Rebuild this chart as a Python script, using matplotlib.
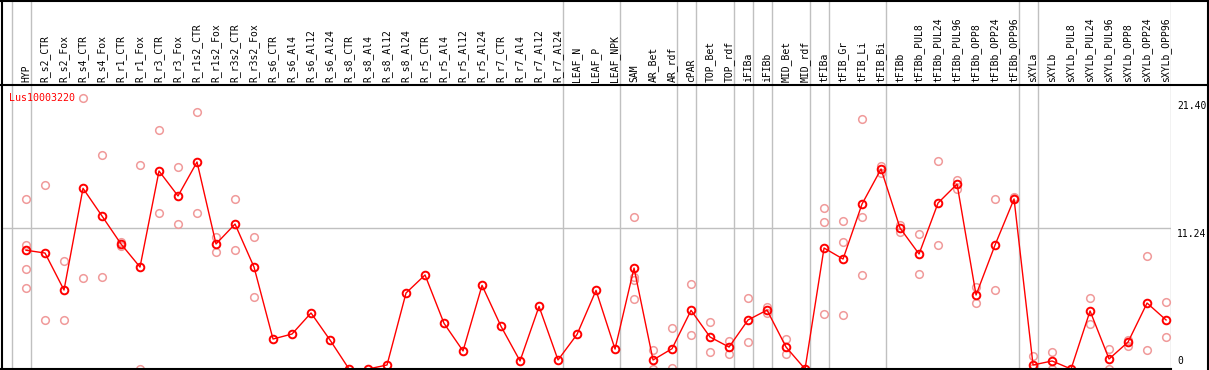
import matplotlib
matplotlib.use("Agg")
import matplotlib.pyplot as plt
from matplotlib.lines import Line2D
from matplotlib.transforms import blended_transform_factory

# sample names (columns)
samples = ["HYP", "R_s2_CTR", "R_s2_Fox", "R_s4_CTR", "R_s4_Fox", "R_r1_CTR", "R_r1_Fox",
           "R_r3_CTR", "R_r3_Fox", "R_r1s2_CTR", "R_r1s2_Fox", "R_r3s2_CTR", "R_r3s2_Fox",
           "R_s6_CTR", "R_s6_Al4", "R_s6_Al12", "R_s6_Al24", "R_s8_CTR", "R_s8_Al4",
           "R_s8_Al12", "R_s8_Al24", "R_r5_CTR", "R_r5_Al4", "R_r5_Al12", "R_r5_Al24",
           "R_r7_CTR", "R_r7_Al4", "R_r7_Al12", "R_r7_Al24", "LEAF_N", "LEAF_P", "LEAF_NPK",
           "SAM", "AR_Bet", "AR_rdf", "cPAR", "TOP_Bet", "TOP_rdf", "iFIBa", "iFIBb",
           "MID_Bet", "MID_rdf", "tFIBa", "tFIB_Gr", "tFIB_Li", "tFIB_Bi", "tFIBb",
           "tFIBb_PUL8", "tFIBb_PUL24", "tFIBb_PUL96", "tFIBb_OPP8", "tFIBb_OPP24",
           "tFIBb_OPP96", "sXYLa", "sXYLb", "sXYLb_PUL8", "sXYLb_PUL24", "sXYLb_PUL96",
           "sXYLb_OPP8", "sXYLb_OPP24", "sXYLb_OPP96"]

# mean expression per sample
means = [9.47, 9.25, 6.30, 14.41, 12.20, 9.97, 8.13, 15.79, 13.80, 16.51, 9.97, 11.56, 8.13,
         2.39, 2.79, 4.47, 2.31, 0.0, 0.0, 0.32, 6.06, 7.50, 3.64, 1.44, 6.67, 3.40, 0.64,
         4.99, 0.72, 2.76, 6.27, 1.59, 8.05, 0.72, 1.62, 4.68, 2.55, 1.75, 3.91, 4.70,
         1.75, 0.0, 9.65, 8.77, 13.16, 15.95, 11.24, 9.17, 13.24, 14.75, 5.90, 9.89,
         13.56, 0.32, 0.64, 0.0, 4.63, 0.80, 2.15, 5.26, 3.91]

# replicate values (column index, value)
rep_idx = [0, 0, 0, 0, 1, 1, 2, 2, 3, 3, 4, 4, 5, 5, 6, 6, 7, 7, 8, 8, 9, 9, 10, 10,
           11, 11, 12, 12, 32, 32, 32, 32, 33, 33, 34, 34, 35, 35, 36, 36, 37, 37, 38, 38,
           39, 39, 40, 40, 42, 42, 42, 43, 43, 43, 44, 44, 44, 45, 45, 46, 46, 47, 47,
           48, 48, 49, 49, 50, 50, 51, 51, 52, 52, 53, 53, 54, 54, 56, 56, 57, 57,
           58, 58, 59, 59, 60, 60]
rep_val = [13.56, 9.89, 7.95, 6.43, 14.65, 3.91, 8.64, 3.91, 21.59, 7.23, 17.07, 7.31,
           10.15, 9.80, 16.27, 0.0, 19.03, 12.44, 16.08, 11.56, 20.47, 12.44, 10.53, 9.30,
           13.56, 9.49, 10.53, 5.74, 12.12, 7.36, 7.10, 5.56, 1.52, 0.0, 3.27, 0.08,
           6.78, 2.68, 3.72, 1.33, 2.23, 1.17, 5.64, 2.13, 4.92, 4.44, 2.39, 1.17,
           12.81, 11.70, 4.39, 11.80, 10.10, 4.28, 19.94, 12.10, 7.47, 16.19, 15.61,
           11.48, 10.95, 10.77, 7.58, 16.59, 9.89, 15.07, 14.33, 6.57, 5.24, 13.56, 6.30,
           13.74, 13.60, 1.04, 0.1, 1.36, 0.0, 5.64, 3.56, 1.59, 0.0, 2.31, 1.86,
           9.01, 1.52, 5.32, 2.55]

# group separator lines drawn after these columns
group_ends = [-1, 0, 28, 31, 34, 35, 37, 38, 39, 41, 42, 45, 52, 53, 60]

y_ticks = [0, 11.24, 21.40]
gene = "Lus10003220"

W, H = 1209, 370
fig = plt.figure(figsize=(W / 100, H / 100), dpi=100)

x = list(range(len(samples)))
xlim = (-1.316, 60.26)

ax = fig.add_axes([1 / W, 1 / H, 1170 / W, 284 / H])
axh = fig.add_axes([1 / W, 285 / H, 1170 / W, 85 / H])

ax.set_xlim(xlim)
ax.set_ylim(0, 22.65)
axh.set_xlim(xlim)
axh.set_ylim(0, 1)
for a in (ax, axh):
    a.set_xticks([])
    a.set_yticks([])
    for s in a.spines.values():
        s.set_visible(False)

for g in group_ends:
    ax.axvline(g + 0.237, color="#c0c0c0", lw=1, zorder=0)
    axh.axvline(g + 0.237, color="#c0c0c0", lw=1, zorder=0)
ax.axhline(11.24, color="#c0c0c0", lw=1, zorder=0)

ax.plot(rep_idx, rep_val, "o", ls="none", ms=5.5, mfc="none", mec="#f09a9a", mew=1.1, zorder=2)
ax.plot(x, means, "-", color="red", lw=1, zorder=3)
ax.plot(x, means, "o", ls="none", ms=5.5, mfc="none", mec="red", mew=1.4, zorder=4)

for i, name in enumerate(samples):
    axh.text(i, 0.03, name, rotation=90, ha="center", va="bottom",
             fontsize=7, family="DejaVu Sans Mono", color="black")

ax.text(0.007, 0.955, gene, transform=ax.transAxes, color="red", fontsize=7.2,
        family="DejaVu Sans Mono", ha="left", va="center")

tr = blended_transform_factory(ax.transAxes, ax.transData)
for v in y_ticks:
    lab = "0" if v == 0 else "%.2f" % v
    ax.text(1 + 6 / 1170, v + (0.25 if v == 0 else -0.05), lab, transform=tr,
            ha="left", va="bottom" if v == 0 else "top", fontsize=7,
            family="DejaVu Sans Mono", clip_on=False)

# frame lines
def fline(x0, y0, x1, y1):
    fig.add_artist(Line2D([x0 / W, x1 / W], [1 - y0 / H, 1 - y1 / H],
                          transform=fig.transFigure, color="black", lw=1.5))

fline(0, 0.5, W, 0.5)
fline(0, 85, W, 85)
fline(1.5, 0, 1.5, 370)
fline(W - 1, 0, W - 1, 370)
fline(0, 369, 1171, 369)

fig.savefig("out.png", dpi=100)
